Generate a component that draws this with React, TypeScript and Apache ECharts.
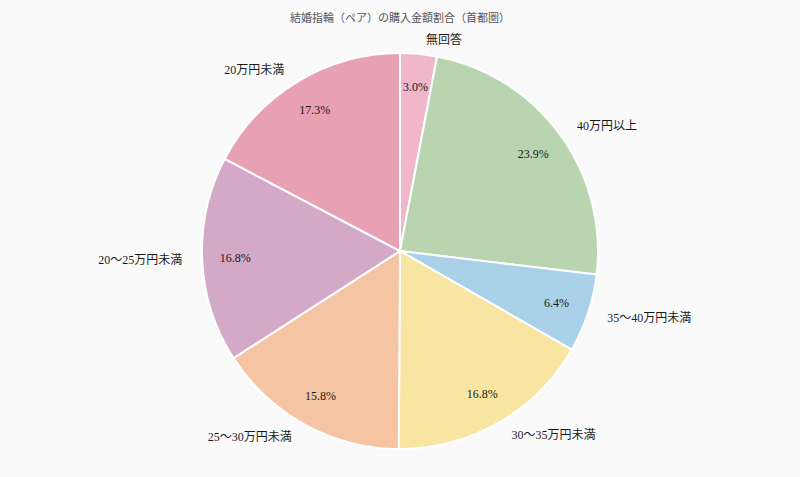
import React, { useEffect, useRef } from 'react';
import * as echarts from 'echarts';

const titleText = '結婚指輪（ペア）の購入金額割合（首都圏）';
const categories = ['無回答', '40万円以上', '35〜40万円未満', '30〜35万円未満', '25〜30万円未満', '20〜25万円未満', '20万円未満'];
const shares = [3.0, 23.9, 6.4, 16.8, 15.8, 16.8, 17.3];
const colors = ['#f0b6c9', '#b8d5b0', '#a9d1e8', '#f7e5a1', '#f5c5a3', '#d4a8c7', '#e8a0b3'];

const fontFamily = '"Liberation Serif", "DejaVu Serif", "Noto Sans CJK JP", serif';

const App: React.FC = () => {
  const chartRef = useRef<HTMLDivElement>(null);

  useEffect(() => {
    document.body.style.margin = '0';
    if (!chartRef.current) return;
    const chart = echarts.init(chartRef.current, undefined, { renderer: 'svg' });

    const seriesData = categories.map((name, i) => ({
      name,
      value: shares[i],
      itemStyle: { color: colors[i] },
    }));

    const option: echarts.EChartsOption = {
      animation: false,
      backgroundColor: '#fafafa',
      title: {
        text: titleText,
        left: 'center',
        top: 7,
        textStyle: { fontFamily, fontSize: 11, fontWeight: 'normal', color: '#555' },
      },
      series: [
        {
          type: 'pie',
          center: [400, 251],
          radius: [0, 198],
          startAngle: 90,
          clockwise: true,
          avoidLabelOverlap: false,
          data: seriesData,
          itemStyle: { borderColor: '#ffffff', borderWidth: 2 },
          label: {
            show: true,
            position: 'outside',
            formatter: '{b}',
            fontFamily,
            fontSize: 12,
            color: '#1a1a1a',
          },
          labelLine: { show: false, length: 14, length2: 1 },
          emphasis: { disabled: true },
        },
        {
          type: 'pie',
          center: [400, 251],
          radius: [150, 174],
          startAngle: 90,
          clockwise: true,
          silent: true,
          data: categories.map((name, i) => ({ name, value: shares[i] })),
          itemStyle: { color: 'transparent', borderWidth: 0 },
          label: {
            show: true,
            position: 'inside',
            formatter: (p: any) => `${p.value.toFixed(1)}%`,
            fontFamily,
            fontSize: 12,
            color: '#1a1a1a',
          },
          labelLine: { show: false },
          emphasis: { disabled: true },
        },
      ],
    };

    chart.setOption(option);
    return () => {
      chart.dispose();
    };
  }, []);

  return <div ref={chartRef} style={{ width: '800px', height: '477px' }} />;
};

export default App;
